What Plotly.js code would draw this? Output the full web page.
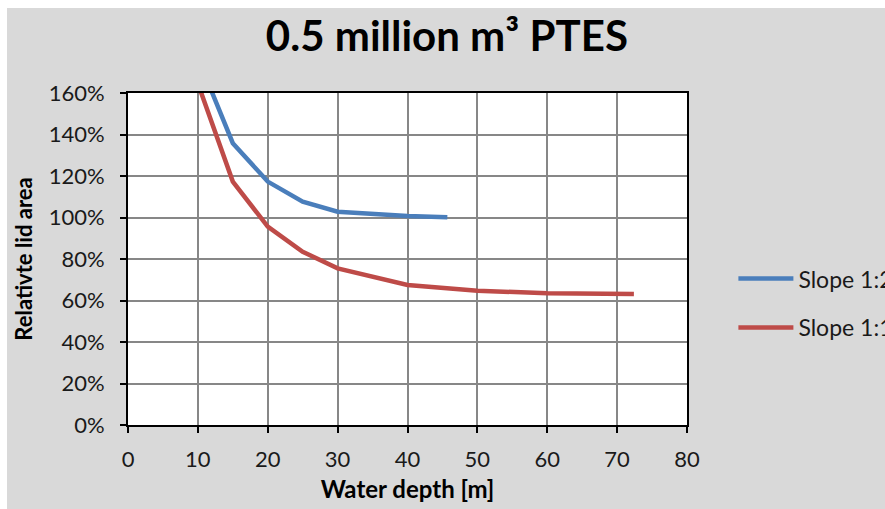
<!DOCTYPE html>
<html>
<head>
<meta charset="utf-8">
<script src="https://cdn.plot.ly/plotly-3.0.1.min.js"></script>
<style>
  html, body { margin: 0; padding: 0; background: #ffffff; }
  #wrap { position: absolute; left: 7px; top: 8px; width: 878px; height: 501px; }
  #chart { width: 878px; height: 501px; }
</style>
</head>
<body>
<div id="wrap"><div id="chart"></div></div>
<script>
// Data
const depthSlope12 = [10, 15, 20, 25, 30, 35, 40, 45.7];
const areaSlope12  = [1.77, 1.358, 1.173, 1.076, 1.028, 1.015, 1.007, 1.001];
const depthSlope11 = [10, 15, 20, 25, 30, 40, 50, 60, 72.4];
const areaSlope11  = [1.646, 1.173, 0.956, 0.835, 0.755, 0.675, 0.647, 0.635, 0.631];
const seriesNames  = ['Slope 1:2', 'Slope 1:1'];
const xTicks = [0, 10, 20, 30, 40, 50, 60, 70, 80];
const yTicks = [0, 0.2, 0.4, 0.6, 0.8, 1.0, 1.2, 1.4, 1.6];
const yTickLabels = ['0%', '20%', '40%', '60%', '80%', '100%', '120%', '140%', '160%'];

const FONT = 'Lato, "Open Sans", sans-serif';

const traces = [
  {
    x: depthSlope12, y: areaSlope12, name: seriesNames[0], type: 'scatter', mode: 'lines',
    line: { color: '#4a7ebb', width: 4.5 }, legendgroup: 'a'
  },
  {
    x: depthSlope11, y: areaSlope11, name: seriesNames[1], type: 'scatter', mode: 'lines',
    line: { color: '#be4b48', width: 4.5 }, legendgroup: 'b'
  }
];

const layout = {
  width: 878, height: 501,
  paper_bgcolor: '#d9d9d9',
  plot_bgcolor: '#ffffff',
  margin: { l: 121, r: 198, t: 85, b: 84, autoexpand: false },
  font: { family: FONT, color: '#1a1a1a', size: 22 },
  title: {
    text: '<b>0.5 million m³ PTES</b>',
    font: { family: FONT, size: 42, color: '#000000' },
    x: 0.501, xanchor: 'center', y: 0.944, yanchor: 'middle'
  },
  xaxis: {
    range: [0, 80], tickvals: xTicks, ticktext: xTicks.map(String),
    showgrid: true, gridcolor: '#878787', gridwidth: 2,
    showline: true, linecolor: '#000000', linewidth: 2, mirror: true,
    ticks: 'outside', ticklen: 6, tickwidth: 2, tickcolor: '#000000',
    ticklabelstandoff: 8,
    zeroline: false,
    tickfont: { family: FONT, size: 22, color: '#1a1a1a' },
    title: { text: '<b>Water depth [m]</b>', font: { family: FONT, size: 24, color: '#000000' }, standoff: 10 }
  },
  yaxis: {
    range: [0, 1.6], tickvals: yTicks, ticktext: yTickLabels,
    showgrid: true, gridcolor: '#878787', gridwidth: 2,
    showline: true, linecolor: '#000000', linewidth: 2, mirror: true,
    ticks: 'outside', ticklen: 6, tickwidth: 2, tickcolor: '#000000',
    ticklabelstandoff: 11,
    zeroline: false,
    tickfont: { family: FONT, size: 22, color: '#1a1a1a' },
    title: { text: '<b>Relativte lid area</b>', font: { family: FONT, size: 22, color: '#000000' }, standoff: 10 }
  },
  showlegend: true,
  legend: {
    x: 1.083, xanchor: 'left', y: 0.367, yanchor: 'middle',
    bgcolor: 'rgba(0,0,0,0)',
    font: { family: FONT, size: 23, color: '#1a1a1a' },
    itemwidth: 55,
    traceorder: 'grouped', tracegroupgap: 16
  }
};

Plotly.newPlot('chart', traces, layout, { displayModeBar: false, staticPlot: true });
</script>
</body>
</html>
